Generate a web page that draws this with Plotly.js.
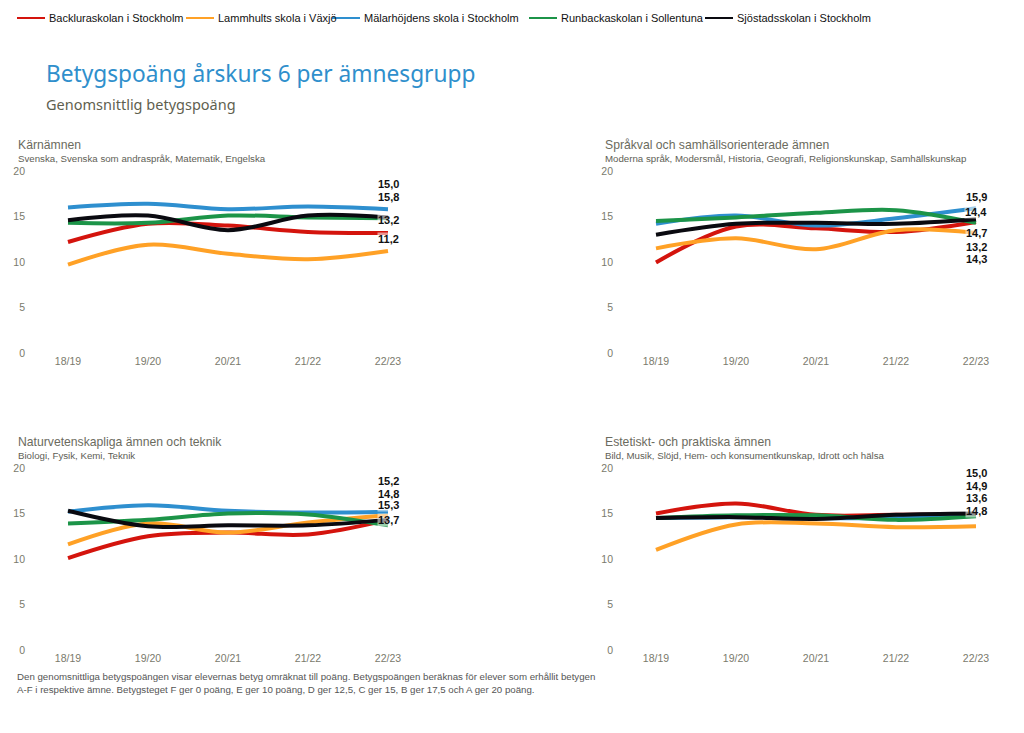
<!DOCTYPE html>
<html>
<head>
<meta charset="utf-8">
<script src="https://cdn.plot.ly/plotly-3.0.1.min.js"></script>
<style>html,body{margin:0;padding:0;background:#fff;}#chart{width:1024px;height:733px;}</style>
</head>
<body>
<div id="chart"></div>
<script>
// ---- data ----
const years = ["18/19", "19/20", "20/21", "21/22", "22/23"];
const schools = ["Backluraskolan i Stockholm", "Lammhults skola i Växjö", "Mälarhöjdens skola i Stockholm", "Runbackaskolan i Sollentuna", "Sjöstadsskolan i Stockholm"];

// Kärnämnen
const karnRed    = [12.2, 14.2, 14.0, 13.3, 13.2];
const karnOrange = [9.7, 11.9, 10.9, 10.3, 11.2];
const karnBlue   = [16.0, 16.4, 15.8, 16.1, 15.8];
const karnGreen  = [14.3, 14.3, 15.1, 14.9, 14.8];
const karnBlack  = [14.6, 15.1, 13.5, 15.1, 14.9];
const karnLabels = ["15,0", "15,8", "13,2", "11,2"];

// Språkval och samhällsorienterade ämnen
const sprRed    = [9.95, 13.9, 13.7, 13.3, 14.4];
const sprOrange = [11.5, 12.6, 11.4, 13.5, 13.2];
const sprBlue   = [14.2, 15.1, 14.0, 14.8, 15.9];
const sprGreen  = [14.5, 14.9, 15.4, 15.7, 14.3];
const sprBlack  = [13.0, 14.2, 14.3, 14.2, 14.7];
const sprLabels = ["15,9", "14,4", "14,7", "13,2", "14,3"];

// Naturvetenskapliga ämnen och teknik
const natRed    = [10.1, 12.5, 12.9, 12.7, 14.3];
const natOrange = [11.6, 13.9, 12.9, 14.0, 14.8];
const natBlue   = [15.2, 15.9, 15.3, 15.1, 15.2];
const natGreen  = [13.9, 14.3, 15.0, 14.9, 13.7];
const natBlack  = [15.3, 13.6, 13.7, 13.7, 14.3];
const natLabels = ["15,2", "14,8", "15,3", "13,7"];

// Estetiskt- och praktiska ämnen
const estRed    = [15.0, 16.1, 14.85, 14.85, 14.9];
const estOrange = [11.0, 13.8, 13.9, 13.5, 13.6];
const estBlue   = [14.5, 14.6, 14.5, 14.5, 14.8];
const estGreen  = [14.5, 14.8, 14.8, 14.3, 14.7];
const estBlack  = [14.5, 14.6, 14.4, 14.85, 15.0];
const estLabels = ["15,0", "14,9", "13,6", "14,8"];

const yTicks = [0, 5, 10, 15, 20];

// ---- styling / layout ----
const colors = ["#d4140d", "#ffa126", "#2e8fcf", "#1c9448", "#0a0a10"];
const W = 1024, H = 733;
const FONT = "Liberation Sans, Arial, sans-serif";
const legendX = [17, 186, 332, 529, 705];   // legend item left edges (px)
const panels = [
  {series: [karnRed, karnOrange, karnBlue, karnGreen, karnBlack], labels: karnLabels,
   labelY: [18.55, 17.1, 14.6, 12.5], left: 30, top: 171, bottom: 353,
   title: "Kärnämnen", sub: "Svenska, Svenska som andraspråk, Matematik, Engelska", tx: 16, ty: 145},
  {series: [sprRed, sprOrange, sprBlue, sprGreen, sprBlack], labels: sprLabels,
   labelY: [17.1, 15.55, 13.2, 11.65, 10.35], left: 618, top: 171, bottom: 353,
   title: "Språkval och samhällsorienterade ämnen", sub: "Moderna språk, Modersmål, Historia, Geografi, Religionskunskap, Samhällskunskap", tx: 603, ty: 145},
  {series: [natRed, natOrange, natBlue, natGreen, natBlack], labels: natLabels,
   labelY: [18.55, 17.15, 15.9, 14.3], left: 30, top: 468, bottom: 650,
   title: "Naturvetenskapliga ämnen och teknik", sub: "Biologi, Fysik, Kemi, Teknik", tx: 16, ty: 442},
  {series: [estRed, estOrange, estBlue, estGreen, estBlack], labels: estLabels,
   labelY: [19.45, 18.0, 16.7, 15.25], left: 618, top: 468, bottom: 650,
   title: "Estetiskt- och praktiska ämnen", sub: "Bild, Musik, Slöjd, Hem- och konsumentkunskap, Idrott och hälsa", tx: 603, ty: 442}
];

const traces = [];
const layout = {
  width: W, height: H,
  margin: {l: 0, r: 0, t: 0, b: 0},
  paper_bgcolor: "#ffffff", plot_bgcolor: "#ffffff",
  font: {family: FONT, color: "#333"},
  showlegend: false,
  hovermode: false,
  annotations: [],
  shapes: []
};

// custom legend (thin line + label)
schools.forEach((s, k) => {
  const x0 = legendX[k];
  layout.shapes.push({type: "line", xref: "paper", yref: "paper",
    x0: x0 / W, x1: (x0 + 28) / W, y0: 1 - 18 / H, y1: 1 - 18 / H,
    line: {color: colors[k], width: 2}});
  layout.annotations.push({xref: "paper", yref: "paper", x: (x0 + 30) / W, y: 1 - 18 / H,
    text: s, showarrow: false, xanchor: "left", yanchor: "middle",
    font: {size: 11, color: "#111", family: FONT}});
});

panels.forEach((p, i) => {
  const n = i === 0 ? "" : String(i + 1);
  const xa = "x" + n, ya = "y" + n;
  const r0 = -0.475, r1 = 4.5;
  const pxPerCat = 80;
  const right = p.left + (r1 - r0) * pxPerCat;
  layout["xaxis" + n] = {
    domain: [p.left / W, right / W], range: [r0, r1], type: "category",
    showgrid: false, zeroline: false, showline: false, ticks: "",
    tickfont: {size: 10.5, color: "#7a7a6c"}, anchor: ya, fixedrange: true
  };
  layout["yaxis" + n] = {
    domain: [1 - p.bottom / H, 1 - p.top / H], range: [0, 20],
    tickvals: yTicks, showgrid: false, zeroline: false, showline: false, ticks: "",
    tickfont: {size: 10.5, color: "#7a7a6c"}, anchor: xa, fixedrange: true, ticklabelstandoff: 4
  };
  p.series.forEach((vals, k) => {
    traces.push({
      type: "scatter", mode: "lines", x: years, y: vals, xaxis: xa, yaxis: ya,
      name: schools[k], showlegend: false,
      line: {color: colors[k], width: 4, shape: "spline", smoothing: 1}
    });
  });
  p.labels.forEach((t, k) => {
    layout.annotations.push({
      xref: xa, yref: ya, x: years[years.length - 1], y: p.labelY[k], text: t,
      showarrow: false, xanchor: "center", yanchor: "middle",
      font: {size: 11, color: "#111", family: FONT, weight: "bold"},
      bgcolor: "rgba(255,255,255,0.55)", borderpad: 0
    });
  });
  layout.annotations.push({
    xref: "paper", yref: "paper", x: p.tx / W, y: 1 - p.ty / H, text: p.title,
    showarrow: false, xanchor: "left", yanchor: "middle",
    font: {size: 12.2, color: "#6b6b5e"}
  });
  layout.annotations.push({
    xref: "paper", yref: "paper", x: p.tx / W, y: 1 - (p.ty + 13) / H, text: p.sub,
    showarrow: false, xanchor: "left", yanchor: "middle",
    font: {size: 9.7, color: "#5e5e55"}
  });
});

layout.annotations.push({
  xref: "paper", yref: "paper", x: 44 / W, y: 1 - 73 / H, text: "Betygspoäng årskurs 6 per ämnesgrupp",
  showarrow: false, xanchor: "left", yanchor: "middle",
  font: {size: 22.7, color: "#2f8fcc", family: "Noto Sans, Open Sans, sans-serif"}
});
layout.annotations.push({
  xref: "paper", yref: "paper", x: 44 / W, y: 1 - 104 / H, text: "Genomsnittlig betygspoäng",
  showarrow: false, xanchor: "left", yanchor: "middle",
  font: {size: 14.5, color: "#5f5f4f", family: "Noto Sans, Open Sans, sans-serif"}
});
layout.annotations.push({
  xref: "paper", yref: "paper", x: 15 / W, y: 1 - 683 / H,
  text: "Den genomsnittliga betygspoängen visar elevernas betyg omräknat till poäng. Betygspoängen beräknas för elever som erhållit betygen<br>A-F i respektive ämne. Betygsteget F ger 0 poäng, E ger 10 poäng, D ger 12,5, C ger 15, B ger 17,5 och A ger 20 poäng.",
  showarrow: false, xanchor: "left", yanchor: "middle", align: "left",
  font: {size: 9.7, color: "#555555"}
});

Plotly.newPlot("chart", traces, layout, {displayModeBar: false, staticPlot: true});
</script>
</body>
</html>
